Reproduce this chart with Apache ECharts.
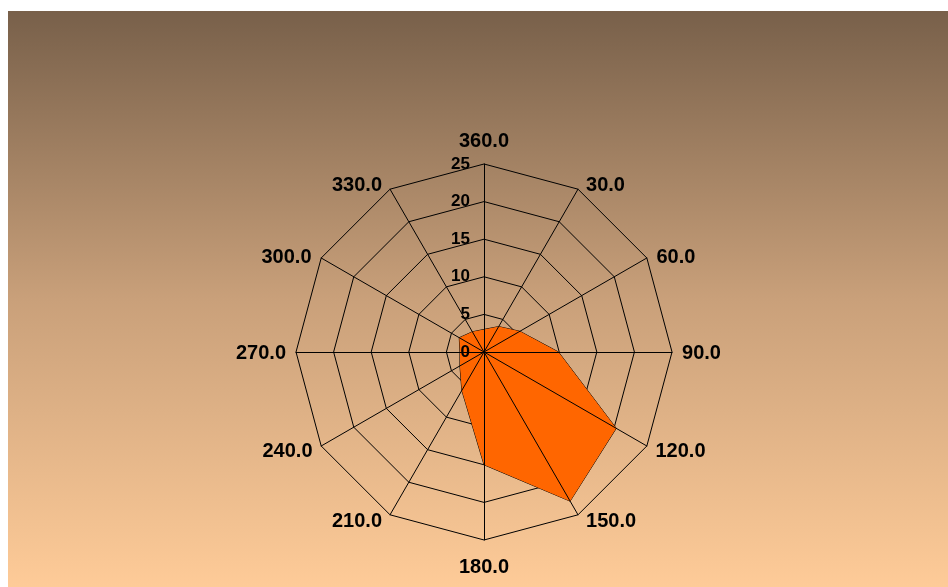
<!DOCTYPE html>
<html><head><meta charset="utf-8">
<script src="https://cdn.jsdelivr.net/npm/echarts@6/dist/echarts.min.js"></script>
<style>
html,body{margin:0;padding:0;background:#fff;}
#c{position:absolute;left:8px;top:11px;width:940px;height:576px;}
</style></head>
<body><div id="c"></div>
<script>
// Data (clockwise from top)
const categories = ['360.0','30.0','60.0','90.0','120.0','150.0','180.0','210.0','240.0','270.0','300.0','330.0'];
const values = [3.0, 3.9, 5.5, 9.9, 20.3, 22.9, 15.0, 5.9, 3.7, 3.2, 3.8, 3.1];
const axisMin = 0, axisMax = 25, axisStep = 5;

// ECharts radar goes counter-clockwise: reorder so it appears clockwise
const order = [0].concat(categories.map((_, i) => i).slice(1).reverse());
const font = 'Liberation Sans, Arial, sans-serif';

// per-label fine placement style (by category position)
const nameStyleKey = ['n0','n30','n60','n90','n120','n150','n180','n150','n120','n90','n60','n30'];
const nameRich = {
  n0:   {padding: [0, 0, 3, 0]},
  n30:  {padding: [9, 3, 0, 3]},
  n60:  {padding: [8, 1, 0, 1]},
  n90:  {padding: [2, 0, 0, 0]},
  n120: {padding: [0, 0, 0, 0]},
  n150: {padding: [0, 3, 4, 3]},
  n180: {padding: [7, 0, 0, 0]}
};
Object.keys(nameRich).forEach(k => Object.assign(nameRich[k], {color: '#000', fontFamily: font, fontWeight: 'bold', fontSize: 20}));

const indicators = order.map(i => ({name: categories[i], min: axisMin, max: axisMax}));

const chart = echarts.init(document.getElementById('c'));
const center = ['50.64%', '59.2%'];
chart.setOption({
  backgroundColor: {
    type: 'linear', x: 0, y: 0, x2: 0, y2: 1,
    colorStops: [{offset: 0, color: '#78604a'}, {offset: 0.5, color: '#c9a07a'}, {offset: 1, color: '#fecb98'}]
  },
  animation: false,
  polar: {center: center, radius: 188, z: 6},
  angleAxis: {show: false, startAngle: 90},
  radiusAxis: {
    type: 'value', min: axisMin, max: axisMax, interval: axisStep, z: 6,
    axisLine: {show: false}, axisTick: {show: false}, splitLine: {show: false},
    axisLabel: {show: true, color: '#000', fontFamily: font, fontWeight: 'bold', fontSize: 17, margin: 14, showMinLabel: true, showMaxLabel: true}
  },
  radar: [{
    center: center, radius: 188, shape: 'polygon', splitNumber: 5, z: 0,
    indicator: indicators,
    axisName: {
      color: '#000', fontFamily: font, fontWeight: 'bold', fontSize: 20,
      formatter: function (name) {
        const idx = categories.indexOf(name);
        return '{' + nameStyleKey[idx] + '|' + name + '}';
      },
      rich: nameRich
    },
    nameGap: 10,
    splitLine: {lineStyle: {color: '#000', width: 1}},
    splitArea: {show: false},
    axisLine: {show: false},
    axisTick: {show: false},
    axisLabel: {show: false}
  }, {
    center: center, radius: 188, shape: 'polygon', splitNumber: 5, z: 5,
    indicator: indicators,
    axisName: {show: false},
    splitLine: {show: false},
    splitArea: {show: false},
    axisLine: {show: true, lineStyle: {color: '#000', width: 1}},
    axisTick: {show: false},
    axisLabel: {show: false}
  }],
  series: [{
    type: 'radar', radarIndex: 0, z: 2,
    symbol: 'none',
    lineStyle: {color: '#000', width: 1},
    areaStyle: {color: '#ff6600', opacity: 1},
    data: [{value: order.map(i => values[i])}]
  }]
});
</script></body></html>
